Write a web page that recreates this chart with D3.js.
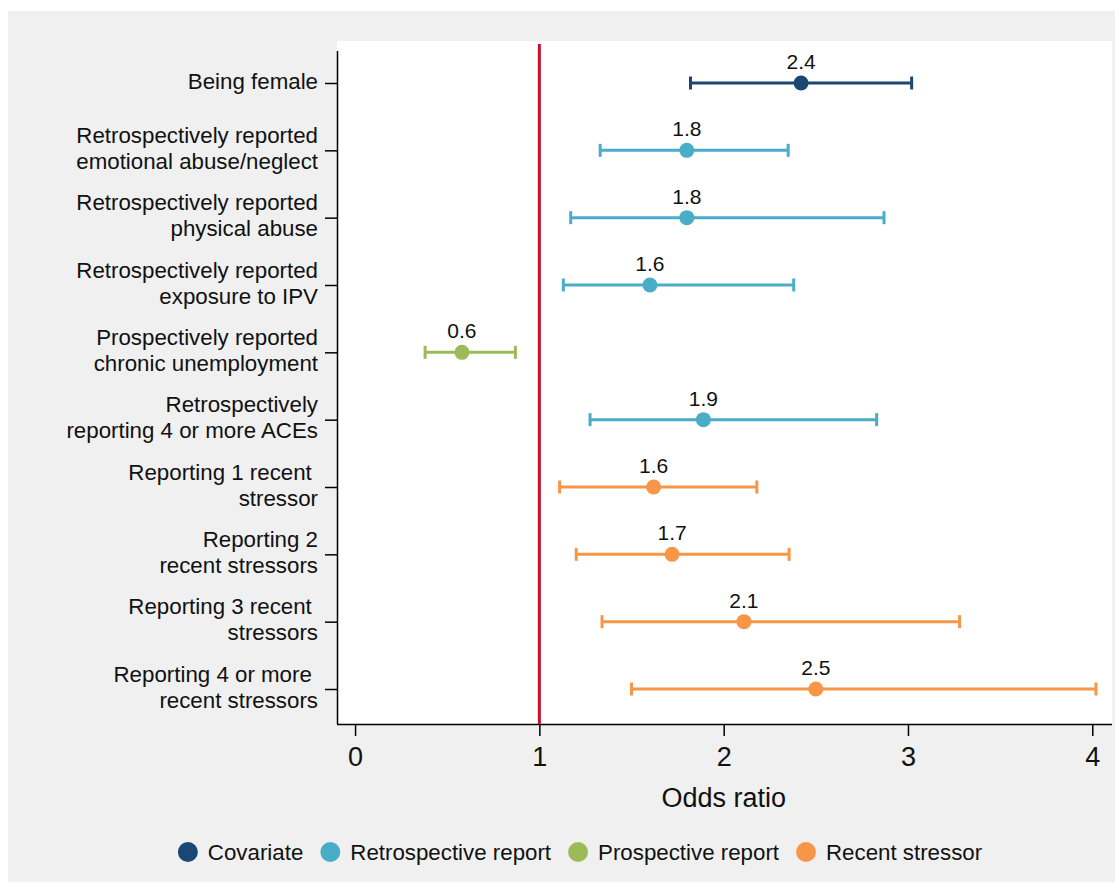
<!DOCTYPE html>
<html>
<head>
<meta charset="utf-8">
<script src="https://cdn.jsdelivr.net/npm/d3@7"></script>
<style>
  html, body { margin: 0; padding: 0; background: #ffffff; }
  svg { display: block; font-family: "Liberation Sans", Arial, sans-serif; }
</style>
</head>
<body>
<svg id="chart" width="1115" height="883"></svg>
<script>
// ---- Data ----
const categories = [
  ["Being female"],
  ["Retrospectively reported", "emotional abuse/neglect"],
  ["Retrospectively reported", "physical abuse"],
  ["Retrospectively reported", "exposure to IPV"],
  ["Prospectively reported", "chronic unemployment"],
  ["Retrospectively", "reporting 4 or more ACEs"],
  ["Reporting 1 recent ", "stressor"],
  ["Reporting 2", "recent stressors"],
  ["Reporting 3 recent ", "stressors"],
  ["Reporting 4 or more ", "recent stressors"]
];
const oddsRatio = [2.42, 1.80, 1.80, 1.60, 0.58, 1.89, 1.62, 1.72, 2.11, 2.50];
const ciLower   = [1.82, 1.33, 1.17, 1.13, 0.38, 1.275, 1.11, 1.20, 1.34, 1.50];
const ciUpper   = [3.02, 2.35, 2.87, 2.38, 0.87, 2.83, 2.18, 2.355, 3.28, 4.02];
const groups    = ["Covariate", "Retrospective report", "Retrospective report", "Retrospective report",
                   "Prospective report", "Retrospective report", "Recent stressor", "Recent stressor",
                   "Recent stressor", "Recent stressor"];
const legendLabels = ["Covariate", "Retrospective report", "Prospective report", "Recent stressor"];
const groupColors  = ["#1a4773", "#4aadc8", "#9bbb59", "#f79646"];
const xTicks = [0, 1, 2, 3, 4];
const referenceValue = 1;
const xTitle = "Odds ratio";

// ---- Layout ----
const svg = d3.select("#chart");
const W = 1115, H = 883;
const plot = { left: 337, right: 1112, top: 41, bottom: 724 };

svg.append("rect").attr("x", 8).attr("y", 11).attr("width", W - 8).attr("height", 871).attr("fill", "#f0f0f0");
svg.append("rect").attr("x", plot.left).attr("y", plot.top)
   .attr("width", plot.right - plot.left).attr("height", plot.bottom - plot.top).attr("fill", "#ffffff");

const x = d3.scaleLinear().domain([-0.098, 4.107]).range([plot.left, plot.right]);
const idx = d3.range(categories.length);
const y = d3.scalePoint().domain(idx).range([83, 689]);
const color = d3.scaleOrdinal().domain(legendLabels).range(groupColors);

// x axis
const xAxis = svg.append("g").attr("transform", `translate(0,${plot.bottom})`)
  .call(d3.axisBottom(x).tickValues(xTicks).tickFormat(d3.format("d")).tickSize(12).tickPadding(10));
xAxis.select(".domain").attr("d", `M${plot.left},0.5H${plot.right}`).attr("stroke", "#000").attr("stroke-width", 1.5);
xAxis.selectAll(".tick line").attr("stroke", "#000").attr("stroke-width", 1.5).attr("y1", 1);
xAxis.selectAll(".tick text").attr("font-size", 27).attr("fill", "#111").attr("dy", "0.75em");

// y axis
const yAxis = svg.append("g").attr("transform", `translate(${plot.left},0)`)
  .call(d3.axisLeft(y).tickSize(12).tickFormat(""));
yAxis.select(".domain").attr("d", `M0.5,51V${plot.bottom}`).attr("stroke", "#000").attr("stroke-width", 1.5);
yAxis.selectAll(".tick line").attr("stroke", "#000").attr("stroke-width", 1.5);

// y labels
const lab = svg.append("g").attr("font-size", 22.3).attr("fill", "#111").attr("text-anchor", "end");
idx.forEach(i => {
  const lines = categories[i];
  const lh = 26;
  const y0 = y(i) - (lines.length - 1) * lh / 2 - 2;
  lines.forEach((t, j) => {
    lab.append("text").attr("x", 318).attr("y", y0 + j * lh).attr("dy", "0.35em")
      .style("white-space", "pre").text(t);
  });
});

// reference line
svg.append("line").attr("x1", x(referenceValue)).attr("x2", x(referenceValue))
  .attr("y1", 44).attr("y2", plot.bottom).attr("stroke", "#c8102e").attr("stroke-width", 3);

// error bars
const marks = svg.append("g");
idx.forEach(i => {
  const c = color(groups[i]);
  const yy = y(i);
  marks.append("line").attr("x1", x(ciLower[i])).attr("x2", x(ciUpper[i])).attr("y1", yy).attr("y2", yy)
    .attr("stroke", c).attr("stroke-width", 3);
  [ciLower[i], ciUpper[i]].forEach(v => {
    marks.append("line").attr("x1", x(v)).attr("x2", x(v)).attr("y1", yy - 6.5).attr("y2", yy + 6.5)
      .attr("stroke", c).attr("stroke-width", 3);
  });
  marks.append("circle").attr("cx", x(oddsRatio[i])).attr("cy", yy).attr("r", 7.5).attr("fill", c);
  marks.append("text").attr("x", x(oddsRatio[i])).attr("y", yy - 14).attr("text-anchor", "middle")
    .attr("font-size", 21).attr("fill", "#111").text(d3.format(".1f")(oddsRatio[i]));
});

// x title
svg.append("text").attr("x", x(2)).attr("y", 807).attr("text-anchor", "middle")
  .attr("font-size", 27).attr("fill", "#111").text(xTitle);

// legend
const leg = svg.append("g").attr("font-size", 22.3).attr("fill", "#111");
const items = legendLabels.map(l => {
  const t = leg.append("text").attr("y", 852).attr("dy", "0.35em").text(l);
  return { l, t, w: t.node().getComputedTextLength() };
});
const r = 10, gapTxt = 10, gapItem = 17;
const total = d3.sum(items, d => 2 * r + gapTxt + d.w) + gapItem * (items.length - 1);
let cx = 580 - total / 2;
items.forEach(d => {
  leg.append("circle").attr("cx", cx + r).attr("cy", 852).attr("r", r).attr("fill", color(d.l));
  d.t.attr("x", cx + 2 * r + gapTxt);
  cx += 2 * r + gapTxt + d.w + gapItem;
});
</script>
</body>
</html>
